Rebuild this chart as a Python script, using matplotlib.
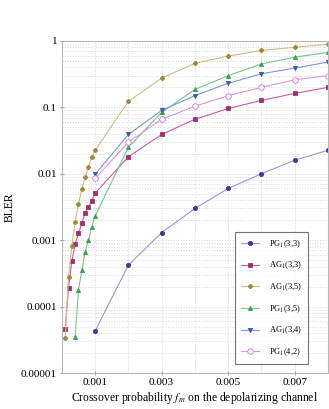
import matplotlib
matplotlib.use("Agg")
import matplotlib.pyplot as plt
from matplotlib.ticker import FixedLocator, FuncFormatter, NullFormatter

plt.rcParams['font.family'] = ['Liberation Serif', 'DejaVu Serif']
plt.rcParams['mathtext.fontset'] = 'stix'

# crossover probabilities
fm_low = [0.0001, 0.0002, 0.0003, 0.0004, 0.0005, 0.0006, 0.0007, 0.0008, 0.0009,
          0.001, 0.002, 0.003, 0.004, 0.005, 0.006, 0.007, 0.008]
fm_green = [0.0004, 0.0005, 0.0006, 0.0007, 0.0008, 0.0009,
            0.001, 0.002, 0.003, 0.004, 0.005, 0.006, 0.007, 0.008]
fm_high = [0.001, 0.002, 0.003, 0.004, 0.005, 0.006, 0.007, 0.008]

# BLER values
pg33 = [4.3e-5, 4.2e-4, 1.3e-3, 3.0e-3, 6.0e-3, 1.0e-2, 1.6e-2, 2.25e-2]
ag33 = [4.6e-5, 1.9e-4, 4.8e-4, 8.7e-4, 1.27e-3, 1.8e-3, 2.6e-3, 3.2e-3, 3.9e-3,
        5.1e-3, 0.018, 0.039, 0.066, 0.096, 0.127, 0.162, 0.2]
ag35 = [3.4e-5, 2.8e-4, 8.1e-4, 1.9e-3, 3.5e-3, 5.9e-3, 8.9e-3, 1.26e-2, 1.8e-2,
        2.25e-2, 0.123, 0.275, 0.46, 0.59, 0.72, 0.80, 0.89]
pg35 = [3.5e-5, 1.8e-4, 3.5e-4, 6.6e-4, 1.0e-3, 1.6e-3,
        2.3e-3, 0.025, 0.084, 0.186, 0.30, 0.45, 0.57, 0.67]
ag34 = [9.8e-3, 0.039, 0.09, 0.15, 0.23, 0.32, 0.39, 0.48]
pg42 = [8.5e-3, 0.030, 0.066, 0.104, 0.15, 0.2, 0.26, 0.30]

labels = [r'PG$_1$(3,3)', r'AG$_1$(3,3)', r'AG$_1$(3,5)',
          r'PG$_1$(3,5)', r'AG$_1$(3,4)', r'PG$_1$(4,2)']
xticks = [0.001, 0.003, 0.005, 0.007]
yticks = [1e-5, 1e-4, 1e-3, 1e-2, 1e-1, 1]
ytick_labels = ['0.00001', '0.0001', '0.001', '0.01', '0.1', '1']

fig = plt.figure(figsize=(3.29, 4.09), dpi=100)
ax = fig.add_axes([0.188, 0.088, 0.809, 0.812])

series = [
    (fm_high, pg33, 'o', '#3a3aa0', '#9898d4', True),
    (fm_low, ag33, 's', '#a03070', '#cc5e98', True),
    (fm_low, ag35, 'P', '#9a8838', '#cdbd85', True),
    (fm_green, pg35, '^', '#3aa050', '#78c88a', True),
    (fm_high, ag34, 'v', '#3a5aa8', '#7a98d4', True),
    (fm_high, pg42, 'o', '#d070d0', '#dc98dc', False),
]
for (x, y, m, mc, lc, filled), lab in zip(series, labels):
    ax.plot(x, y, color=lc, lw=0.8, marker=m, ms=3.0 if filled else 4,
            markerfacecolor=mc if filled else 'white', markeredgecolor=mc,
            markeredgewidth=0.6, label=lab)

ax.set_yscale('log')
ax.set_xlim(0, 0.008)
ax.set_ylim(1e-5, 1)
ax.xaxis.set_major_locator(FixedLocator(xticks))
ax.xaxis.set_minor_locator(FixedLocator([0.001 * i for i in range(1, 9)]))
ax.xaxis.set_major_formatter(FuncFormatter(lambda v, p: f'{v:.3f}'))
ax.yaxis.set_major_locator(FixedLocator(yticks))
ax.yaxis.set_major_formatter(FuncFormatter(
    lambda v, p: ytick_labels[yticks.index(min(yticks, key=lambda t: abs(t - v)))]))
ax.yaxis.set_minor_formatter(NullFormatter())
ax.tick_params(which='major', length=3, direction='inout', color='#a0a0a0',
               labelsize=8.2, pad=2)
ax.tick_params(which='minor', length=0)
ax.grid(True, which='both', color='#d8d8d8', ls=':', lw=0.7)
for s in ax.spines.values():
    s.set_color('#b8b8b8')
    s.set_linewidth(0.8)

ax.set_xlabel(r'Crossover probability $f_m$ on the depolarizing channel', fontsize=8.4)
ax.set_ylabel('BLER', fontsize=8.4)
ax.xaxis.set_label_coords(0.5, -0.05)
ax.yaxis.set_label_coords(-0.175, 0.5)

leg = ax.legend(loc='lower right', bbox_to_anchor=(0.923, 0.028), fontsize=6,
                frameon=True, fancybox=False, labelspacing=1.2, borderpad=0.7,
                handlelength=2.2, handletextpad=1.1, borderaxespad=0)
leg.get_frame().set_edgecolor('#505050')
leg.get_frame().set_linewidth(0.8)

fig.savefig('out.png', dpi=100)
